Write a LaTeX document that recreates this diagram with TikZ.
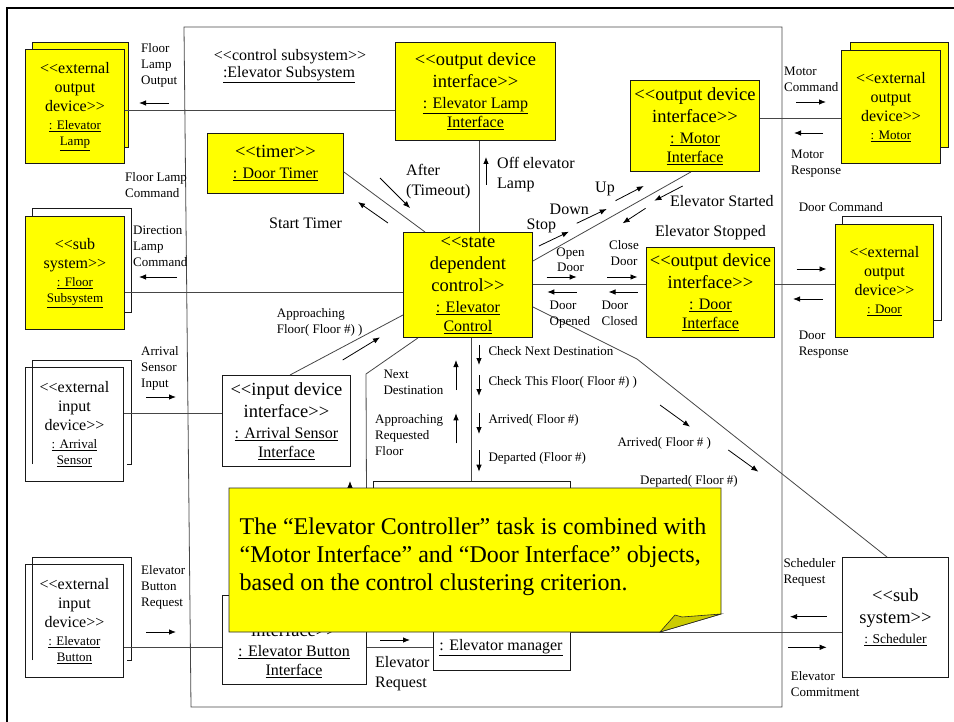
\documentclass[tikz,border=0pt]{standalone}
\usepackage{fontspec}
\setmainfont{Liberation Serif}
\usetikzlibrary{arrows.meta,calc}
\definecolor{noteyellow}{RGB}{255,255,0}
\definecolor{foldolive}{RGB}{204,204,0}
\definecolor{linegray}{RGB}{70,70,70}
% type sizes (1pt = 1px of the final image)
\newcommand\fsS{\fontsize{13}{16}\selectfont}     % small message labels
\newcommand\fsM{\fontsize{16}{20}\selectfont}     % medium labels, object names
\newcommand\fsB{\fontsize{18.5}{22}\selectfont}   % stereotypes in object boxes
\newcommand\fsX{\fontsize{16}{19}\selectfont}     % stereotypes in external boxes
\newcommand\fsE{\fontsize{13}{16}\selectfont}     % names in external boxes
\newcommand\fsT{\fontsize{24}{28}\selectfont}     % note text
% guillemet-free stereotype brackets (keep the two characters apart)
\newcommand\stO{<\kern0pt<}
\newcommand\stC{>\kern0pt>}
\begin{document}
\begin{tikzpicture}[x=1pt,y=-1pt,
  box/.style={draw=black!90, line width=0.9pt, inner sep=0pt, align=center, anchor=north west},
  ybox/.style={box, fill=noteyellow},
  wbox/.style={box, fill=white},
  obox/.style={box},
  backy/.style={draw=black!90, line width=0.9pt, fill=noteyellow},
  backw/.style={draw=black!90, line width=0.9pt},
  conn/.style={draw=linegray, line width=0.8pt},
  frame/.style={draw=linegray, line width=0.8pt},
  msg/.style={draw=black, line width=0.8pt, -{Latex[length=7pt,width=5.5pt]}},
  lbl/.style={inner sep=0pt, align=left, anchor=north west, font=\fsS},
  lblc/.style={inner sep=0pt, align=center, anchor=north, font=\fsS},
  lblm/.style={inner sep=0pt, align=left, anchor=north west, font=\fsM},
]
\useasboundingbox (0,0) rectangle (954,722);

% page frame
\draw[line width=2.5pt] (7,722) -- (7,8) -- (954,8);

% control subsystem boundary
\draw[frame] (184,27) -- (782,27) -- (782,707) -- (191,707) -- cycle;
\node[inner sep=0pt, font=\fsM] (subsys) at (290,57) {\stO control subsystem\stC};
\node[inner sep=0pt, font=\fsM] (subsysname) at (289,75) {\underline{:Elevator Subsystem}};

% ---------- external objects (stacked boxes) ----------
\draw[backy] (32,42) rectangle (128,147);
\node[ybox, minimum width=99, minimum height=114, font=\fsX] (lampx) at (25,49)
  {\fsX\stO external\\\fsX output\\\fsX device\stC\\[-1pt]\fsE\underline{: Elevator}\\[-3pt]\fsE\underline{Lamp}};

\draw[backy] (850,42) rectangle (948,147);
\node[ybox, minimum width=99, minimum height=113, font=\fsX] (motorx) at (841,50)
  {\fsX\stO external\\\fsX output\\\fsX device\stC\\[-1pt]\fsE\underline{: Motor}};

\draw[backw] (32,208) rectangle (131,312);
\node[ybox, minimum width=99, minimum height=113, font=\fsX] (floorx) at (25,216)
  {\fsX\stO sub\\\fsX system\stC\\[-1pt]\fsE\underline{: Floor}\\[-3pt]\fsE\underline{Subsystem}};

\draw[backw] (842,216) rectangle (941,320);
\node[ybox, minimum width=98, minimum height=113, font=\fsX] (doorx) at (835,224)
  {\fsX\stO external\\\fsX output\\\fsX device\stC\\[-1pt]\fsE\underline{: Door}};

\draw[backw] (32,464) -- (32,360) -- (131,360) -- (131,464) -- (127,464);
\node[obox, minimum width=98, minimum height=114, font=\fsX] (arrx) at (25,367)
  {\fsX\stO external\\\fsX input\\\fsX device\stC\\[-1pt]\fsE\underline{: Arrival}\\[-3pt]\fsE\underline{Sensor}};

\draw[backw] (32,660) -- (32,557) -- (131,557) -- (131,660) -- (127,660);
\node[obox, minimum width=98, minimum height=113, font=\fsX] (btnx) at (25,564)
  {\fsX\stO external\\\fsX input\\\fsX device\stC\\[-1pt]\fsE\underline{: Elevator}\\[-3pt]\fsE\underline{Button}};

% ---------- objects inside the subsystem ----------
\node[ybox, minimum width=160, minimum height=98, font=\fsB] (lampif) at (395,42)
  {\fsB\stO output device\\\fsB interface\stC\\[-1pt]\fsM\underline{: Elevator Lamp}\\[-3pt]\fsM\underline{Interface}};

\node[ybox, minimum width=129, minimum height=91, font=\fsB] (motorif) at (630,80)
  {\fsB\stO output device\\\fsB interface\stC\\[-1pt]\fsM\underline{: Motor}\\[-3pt]\fsM\underline{Interface}};

\node[ybox, minimum width=136, minimum height=60, font=\fsB] (timer) at (207,133)
  {\fsB\stO timer\stC\\[-1pt]\fsM\underline{: Door Timer}};

\node[ybox, minimum width=129, minimum height=105, font=\fsB] (ctl) at (403,232)
  {\fsB\stO state\\\fsB dependent\\\fsB control\stC\\[-1pt]\fsM\underline{: Elevator}\\[-3pt]\fsM\underline{Control}};

\node[ybox, minimum width=128, minimum height=90, font=\fsB] (doorif) at (646,247)
  {\fsB\stO output device\\\fsB interface\stC\\[-1pt]\fsM\underline{: Door}\\[-3pt]\fsM\underline{Interface}};

\node[wbox, minimum width=128, minimum height=91, font=\fsB] (arrif) at (222,375)
  {\fsB\stO input device\\\fsB interface\stC\\[-1pt]\fsM\underline{: Arrival Sensor}\\[-3pt]\fsM\underline{Interface}};

\node[wbox, minimum width=144, minimum height=89] (btnif) at (222,595) {};
\node[inner sep=0pt, align=center, anchor=north, font=\fsB] (btniftext) at (294,623)
  {\fsB interface\stC\\[-2pt]\fsM\underline{: Elevator Button}\\[-3pt]\fsM\underline{Interface}};

% elevator manager: outline drawn as one path (wider at its top edge)
\node[inner sep=0pt, minimum width=137, minimum height=189, anchor=north west] (mgr) at (433,481) {};
\filldraw[fill=white, draw=black!90, line width=0.9pt]
  (433,600) -- (mgr.south west) -- (mgr.south east) -- (mgr.north east) -- (373,481) -- (373,560);
\node[inner sep=0pt, font=\fsM] (mgrtext) at (501,648) {\underline{: Elevator manager}};

\node[wbox, minimum width=106, minimum height=120, font=\fsB] (sched) at (842,557)
  {\fsB\stO sub\\\fsB system\stC\\[-2pt]\fontsize{13.5}{16}\selectfont\underline{: Scheduler}};

% ---------- links ----------
\draw[conn] (lampx.east |- 0,110) -- (lampif.west |- 0,110);
\draw[conn] (lampif.south -| 479,0) -- (ctl.north -| 479,0);
\draw[conn] (motorif.east |- 0,118) -- (motorx.west |- 0,118);
\draw[conn] (motorif.south -| 691,0) -- (ctl.east |- 0,261);
\draw[conn] (timer.east |- 0,172) -- (ctl.north -| 425,0);
\draw[conn] (floorx.east |- 0,292) -- (ctl.west |- 0,292);
\draw[conn] (ctl.east |- 0,284) -- (doorif.west |- 0,284);
\draw[conn] (doorif.east |- 0,284) -- (doorx.west |- 0,284);
\draw[conn] (arrx.east |- 0,413) -- (arrif.west |- 0,413);
\draw[conn] (arrif.north -| 290,0) -- (ctl.west |- 0,315);
\coordinate (bend1) at (366,374);
\draw[conn] (ctl.south -| 418,0) -- (bend1) -- (btnif.north east);
\draw[conn] (ctl.south -| 471,0) -- (mgr.north -| 471,0);
\draw[conn] (btnx.east |- 0,647) -- (btnif.west |- 0,647);
\draw[conn] (btnif.east |- 0,647) -- (mgr.west |- 0,647);
\draw[conn] (mgr.east |- 0,632) -- (sched.west |- 0,632);
\coordinate (bend2) at (637,359);
\draw[conn] (ctl.east |- 0,307) -- (bend2) -- (sched.north -| 887,0);

% ---------- messages ----------
\draw[msg] (169,103) -- (139,103);
\node[lbl] (m1) at (141,43.5) {Floor\\Lamp\\Output};

\draw[msg] (796,102) -- (826,102);
\node[lbl] (m2) at (784,66.5) {Motor\\Command};
\draw[msg] (823,133) -- (794,133);
\node[lbl] (m3) at (791,149.5) {Motor\\Response};

\draw[msg] (486,185) -- (486,157);
\node[lblm] (m4) at (497,157.5) {Off elevator\\Lamp};

\draw[msg] (380,178) -- (410,208);
\node[lblm] (m5) at (406,164.5) {After\\(Timeout)};

\draw[msg] (388,223) -- (358,202);
\node[lblm] (m6) at (269,217.5) {Start Timer};

\node[lbl] (m7) at (125,172.5) {Floor Lamp\\Command};

\draw[msg] (177,277) -- (139,277);
\node[lbl] (m8) at (133,225.5) {Direction\\Lamp\\Command};

\draw[msg] (615.5,200.7) -- (643.8,186);
\node[lblm] (m9) at (595,181.5) {Up};
\draw[msg] (576.7,223.3) -- (606.7,209);
\node[lblm] (m10) at (549.5,203.5) {Down};
\draw[msg] (538.9,246) -- (568.9,231.7);
\node[lblm] (m11) at (526.5,218.5) {Stop};

\draw[msg] (682.7,186) -- (654.4,200.7);
\node[lblm] (m12) at (670,195.5) {Elevator Started};
\draw[msg] (645.6,208.3) -- (622.6,223.3);
\node[lblm] (m13) at (655,225.5) {Elevator Stopped};

\draw[msg] (546.6,277) -- (576.7,277);
\node[lblc] (m14) at (570.5,248) {Open\\[-1pt]Door};
\draw[msg] (607.4,277) -- (637.5,277);
\node[lblc] (m15) at (624,240) {Close\\Door};
\draw[msg] (576.7,292) -- (547.3,292);
\node[lbl] (m16) at (549.5,300.5) {Door\\Opened};
\draw[msg] (637.5,292) -- (608.5,292);
\node[lbl] (m17) at (601.4,300.5) {Door\\Closed};

\draw[msg] (796.5,269) -- (826.5,269);
\node[lbl] (m18) at (798.6,202.5) {Door Command};
\draw[msg] (823,299) -- (793,299);
\node[lbl] (m19) at (798.6,330.5) {Door\\Response};

\draw[msg] (342.7,360) -- (380,337.3);
\node[lbl] (m20) at (276.7,308) {Approaching\\Floor( Floor \#) )};

\draw[msg] (146,397) -- (176,397);
\node[lbl] (m21) at (141,346.5) {Arrival\\Sensor\\Input};

\draw[msg] (456,390) -- (456,360);
\node[lbl] (m22) at (383.3,369.5) {Next\\Destination};
\draw[msg] (456,443.3) -- (456,413.3);
\node[lbl] (m23) at (375,414.5) {Approaching\\Requested\\Floor};

\draw[msg] (479,345) -- (479,365);
\node[lbl] (m24) at (488.3,346) {Check Next Destination};
\draw[msg] (479,375) -- (479,396);
\node[lbl] (m25) at (488.3,376.5) {Check This Floor( Floor \#) )};
\draw[msg] (479,413) -- (479,434);
\node[lbl] (m26) at (488.3,414.5) {Arrived( Floor \#)};
\draw[msg] (479,450) -- (479,471.7);
\node[lbl] (m27) at (488.3,452) {Departed (Floor \#)};

\draw[msg] (660,405) -- (690,426.7);
\node[lbl] (m28) at (617.3,437) {Arrived( Floor \# )};
\draw[msg] (728.3,450) -- (758.3,471.7);
\node[lbl] (m29) at (640,475.5) {Departed( Floor \#)};

\draw[msg] (350,508) -- (350,481);

\draw[msg] (146,632) -- (176,632);
\node[lbl] (m30) at (141,565.5) {Elevator\\Button\\Request};

\draw[msg] (380,640) -- (410,640);
\node[lblm] (m31) at (375,656) {Elevator\\Request};

\draw[msg] (826.7,616.7) -- (790,616.7);
\node[lbl] (m32) at (783.3,558) {Scheduler\\Request};
\draw[msg] (788,647.3) -- (826.7,647.3);
\node[lbl] (m33) at (790.7,671) {Elevator\\Commitment};

% ---------- sticky note ----------
\filldraw[fill=noteyellow, draw=black!85, line width=0.7pt]
  (229,488) -- (721,488) -- (721,614) -- (660,632) -- (229,632) -- cycle;
\filldraw[fill=foldolive, draw=black!85, line width=0.6pt]
  (660,632) -- (675,615) .. controls (678,616) .. (682,617) -- (721,614) -- cycle;
\node[inner sep=0pt, align=left, anchor=north west, font=\fsT] (notetext) at (239.5,517.5)
  {The “Elevator Controller” task is combined with\\“Motor Interface” and “Door Interface” objects,\\based on the control clustering criterion.};

\end{tikzpicture}
\end{document}
